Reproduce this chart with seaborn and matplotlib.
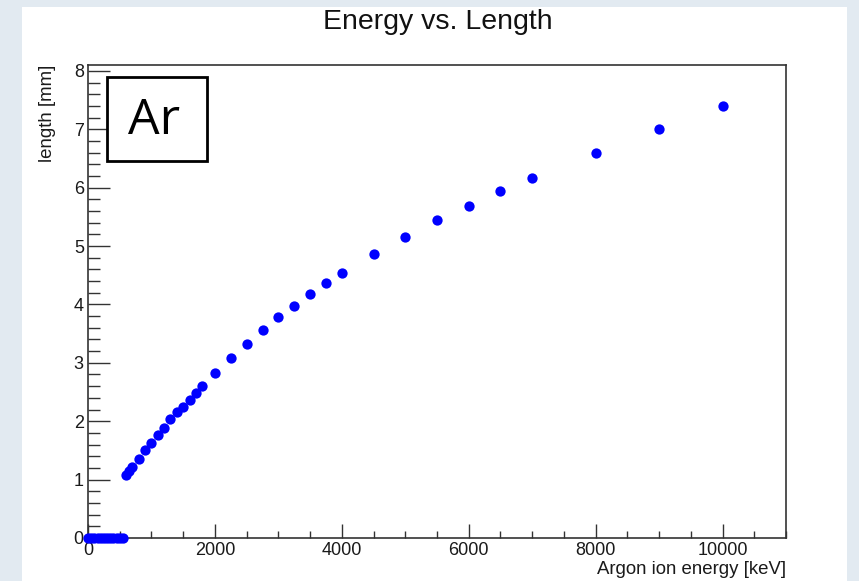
import matplotlib
matplotlib.use("Agg")
import matplotlib.pyplot as plt
from matplotlib.patches import Rectangle
from matplotlib.ticker import MultipleLocator
import numpy as np
import pandas as pd
import seaborn as sns

# Data
zero_energy = [0, 50, 100, 150, 200, 250, 300, 350, 400, 450, 500, 550]
zero_length = [0.0] * len(zero_energy)
energy = [600, 650, 700, 800, 900, 1000, 1100, 1200, 1300, 1400, 1500, 1600,
          1700, 1800, 2000, 2250, 2500, 2750, 3000, 3250, 3500, 3750, 4000,
          4500, 5000, 5500, 6000, 6500, 7000, 8000, 9000, 10000]
length = [1.08, 1.15, 1.22, 1.36, 1.51, 1.63, 1.76, 1.88, 2.03, 2.15, 2.25, 2.37,
          2.48, 2.60, 2.82, 3.08, 3.33, 3.57, 3.78, 3.97, 4.17, 4.36, 4.53,
          4.86, 5.16, 5.44, 5.69, 5.95, 6.16, 6.60, 7.00, 7.39]

title = "Energy vs. Length"
xlabel = "Argon ion energy [keV]"
ylabel = "length [mm]"
label_box = "Ar"

df = pd.DataFrame({"energy": zero_energy + energy, "length": zero_length + length})

sns.set_style("ticks")
plt.rcParams["font.family"] = ["Liberation Sans", "DejaVu Sans"]

W, H = 859, 581
fig = plt.figure(figsize=(W / 100, H / 100), dpi=100)
fig.patch.set_facecolor("#e2eaf1")
fig.patches.append(Rectangle((22 / W, 0), (847 - 22) / W, 1 - 7 / H,
                             transform=fig.transFigure, facecolor="white",
                             edgecolor="none", zorder=-5))

ax = fig.add_axes([88 / W, 1 - 538 / H, (786 - 88) / W, (538 - 65) / H])
ax.set_facecolor("white")
sns.scatterplot(data=df, x="energy", y="length", ax=ax, color="#0000ff",
                s=55, linewidth=0, marker="o", clip_on=False, zorder=3)

ax.set_xlim(0, 11000)
ax.set_ylim(0, 8.1)
ax.xaxis.set_major_locator(MultipleLocator(2000))
ax.xaxis.set_minor_locator(MultipleLocator(500))
ax.yaxis.set_major_locator(MultipleLocator(1))
ax.yaxis.set_minor_locator(MultipleLocator(0.2))
ax.tick_params(axis="y", which="major", direction="in", length=16, width=1,
               color="#333333", labelsize=13, pad=3, labelcolor="#1a1a1a")
ax.tick_params(axis="y", which="minor", direction="in", length=8.5, width=1,
               color="#333333")
ax.tick_params(axis="x", which="major", direction="in", length=10, width=1,
               color="#333333", labelsize=13, pad=3, labelcolor="#1a1a1a")
ax.tick_params(axis="x", which="minor", direction="in", length=5, width=1,
               color="#333333")
for sp in ax.spines.values():
    sp.set_visible(True)
    sp.set_color("#333333")
    sp.set_linewidth(1.2)

ax.set_xlabel("")
ax.set_ylabel("")
fig.text(786 / W, 1 - 570 / H, xlabel, ha="right", va="center", fontsize=13.4,
         color="#1a1a1a")
fig.text(47 / W, 1 - 65 / H, ylabel, ha="center", va="top", rotation=90,
         fontsize=13.4, color="#1a1a1a")
fig.text(438 / W, 1 - 22 / H, title, ha="center", va="center", fontsize=20.5,
         color="#111111")

# Label box
fig.patches.append(Rectangle((107 / W, 1 - 161 / H), 100 / W, 84 / H,
                             transform=fig.transFigure, facecolor="white",
                             edgecolor="black", linewidth=2, zorder=5))
fig.text(154 / W, 1 - 121 / H, label_box, ha="center", va="center",
         fontsize=36, color="black", family=["Open Sans", "DejaVu Sans"],
         zorder=6)

fig.savefig("out.png", dpi=100)
